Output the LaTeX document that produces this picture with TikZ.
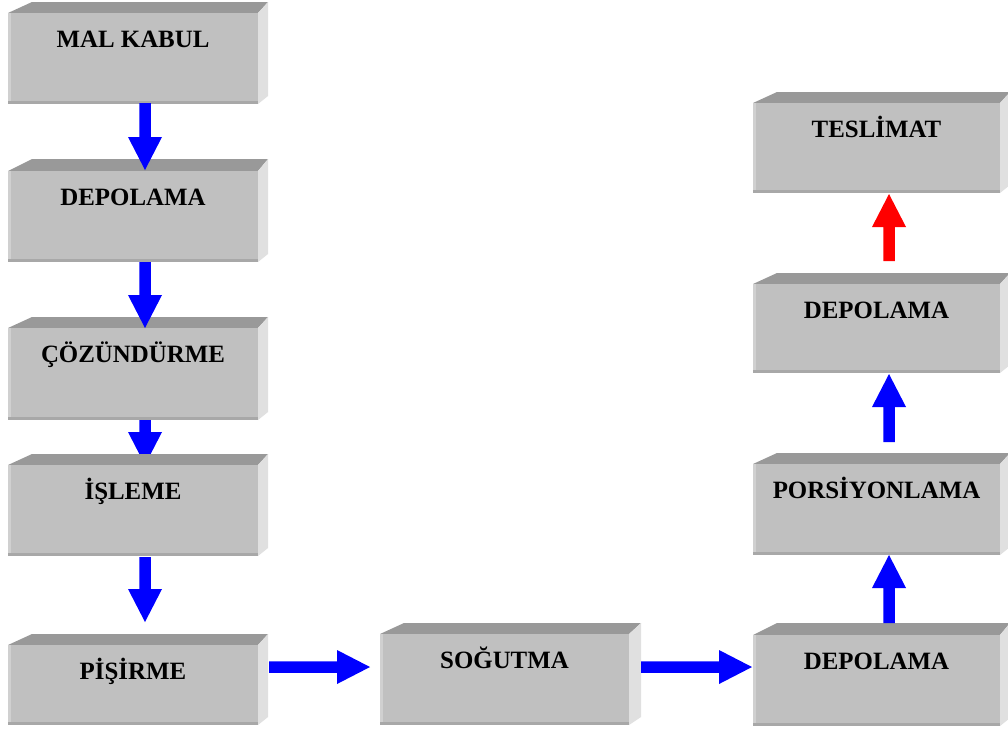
\documentclass[tikz,border=0pt]{standalone}
\usepackage{fontspec}
\setmainfont{Liberation Serif}
\usetikzlibrary{calc}
\definecolor{fc}{HTML}{C0C0C0}
\definecolor{tc}{HTML}{999999}
\definecolor{sc}{HTML}{E0E0E0}
\definecolor{bc}{HTML}{A8A8A8}
\definecolor{lc}{HTML}{D0D0D0}
\definecolor{arrblue}{HTML}{0000FF}
\definecolor{arrred}{HTML}{FF0000}
\pgfdeclarelayer{bg}
\pgfsetlayers{bg,main}
\tikzset{
  topface/.style={fill=tc},
  sideface/.style={fill=sc},
  frontface/.style={rectangle, fill=fc, draw=none, inner sep=0pt, outer sep=0pt, anchor=north west},
  lbl/.style={font=\bfseries\fontsize{24.9}{28}\selectfont, anchor=base, inner sep=0pt},
}
% \procbox{name}{x1}{yback}{ytop}{x2}{ybot}{x3}{text}
\newcommand\procbox[8]{%
  \fill[topface] (#2,#4) -- (#2+24,#3) -- (#7,#3) -- (#5,#4) -- cycle;
  \fill[sideface] (#5,#4) -- (#7,#3) -- (#7,#6-8) -- (#5,#6) -- cycle;
  \node[frontface, minimum width=#5-#2, minimum height=#6-#4] (#1) at (#2,#4) {};
  \fill[lc] (#1.north west) rectangle ($(#1.south west)+(3,0)$);
  \fill[bc] ($(#1.south west)+(0,-3)$) rectangle (#1.south east);
  \node[lbl] (#1-t) at ($(#1.north)+(0,34)$) {#8};
}
% \blockarrow{color}{from}{to}
\newcommand\blockarrow[3]{%
  \fill[#1] let \p1=(#2), \p2=(#3),
      \n1={(\x2-\x1>1)-(\x2-\x1<-1)}, \n2={(\y2-\y1>1)-(\y2-\y1<-1)} in
    (\x1+5.75pt*\n2, \y1+5.75pt*\n1)
    -- (\x2-33pt*\n1+5.75pt*\n2, \y2-33pt*\n2+5.75pt*\n1)
    -- (\x2-33pt*\n1+17pt*\n2, \y2-33pt*\n2+17pt*\n1)
    -- (\x2,\y2)
    -- (\x2-33pt*\n1-17pt*\n2, \y2-33pt*\n2-17pt*\n1)
    -- (\x2-33pt*\n1-5.75pt*\n2, \y2-33pt*\n2-5.75pt*\n1)
    -- (\x1-5.75pt*\n2, \y1-5.75pt*\n1) -- cycle;
}
\begin{document}
\begin{tikzpicture}[x=1pt,y=-1pt]
\useasboundingbox (0,0) rectangle (1008,732);
\clip (0,0) rectangle (1008,732);
\begin{pgfonlayer}{bg}
  \fill[white] (0,0) rectangle (1008,732);
\end{pgfonlayer}
\procbox{mk}{8}{2}{13}{258}{104}{268}{MAL KABUL}
\procbox{dep1}{8}{159}{171}{258}{262}{268}{DEPOLAMA}
\procbox{coz}{8}{317}{328}{258}{420}{268}{ÇÖZÜNDÜRME}
\procbox{isl}{8}{454}{465}{258}{556}{268}{İŞLEME}
\procbox{pis}{8}{634}{645}{258}{725}{268}{PİŞİRME}
\procbox{sog}{380}{623}{634}{629}{725}{641}{SOĞUTMA}
\procbox{dep3}{753}{623}{635}{1000}{726}{1010}{DEPOLAMA}
\procbox{por}{753}{453}{464}{1000}{555}{1010}{PORSİYONLAMA}
\procbox{dep2}{753}{273}{284}{1000}{373}{1010}{DEPOLAMA}
\procbox{tes}{753}{92}{103}{1000}{193}{1010}{TESLİMAT}
% left column
\blockarrow{arrblue}{$(mk.south west)+(137,-1)$}{$(dep1.north west)+(137,-1)$}
\blockarrow{arrblue}{$(dep1.south west)+(137,0)$}{$(coz.north west)+(137,0)$}
\begin{pgfonlayer}{bg}
\blockarrow{arrblue}{$(coz.south west)+(137,-23)$}{$(isl.north west)+(137,0)$}
\end{pgfonlayer}
\blockarrow{arrblue}{$(isl.south west)+(137,1)$}{$(pis.north west)+(137,-23)$}
% bottom row
\blockarrow{arrblue}{$(pis.north east)+(11,22)$}{$(sog.north west)+(-10,33)$}
\blockarrow{arrblue}{$(sog.north east)+(12,33)$}{$(dep3.north west)+(-1,32)$}
% right column
\blockarrow{arrblue}{$(dep3.north west)+(136,-12)$}{$(por.south west)+(136,0)$}
\blockarrow{arrblue}{$(por.north west)+(136,-22)$}{$(dep2.south west)+(136,1)$}
\blockarrow{arrred}{$(dep2.north west)+(136,-23)$}{$(tes.south west)+(136,1)$}
\end{tikzpicture}
\end{document}
